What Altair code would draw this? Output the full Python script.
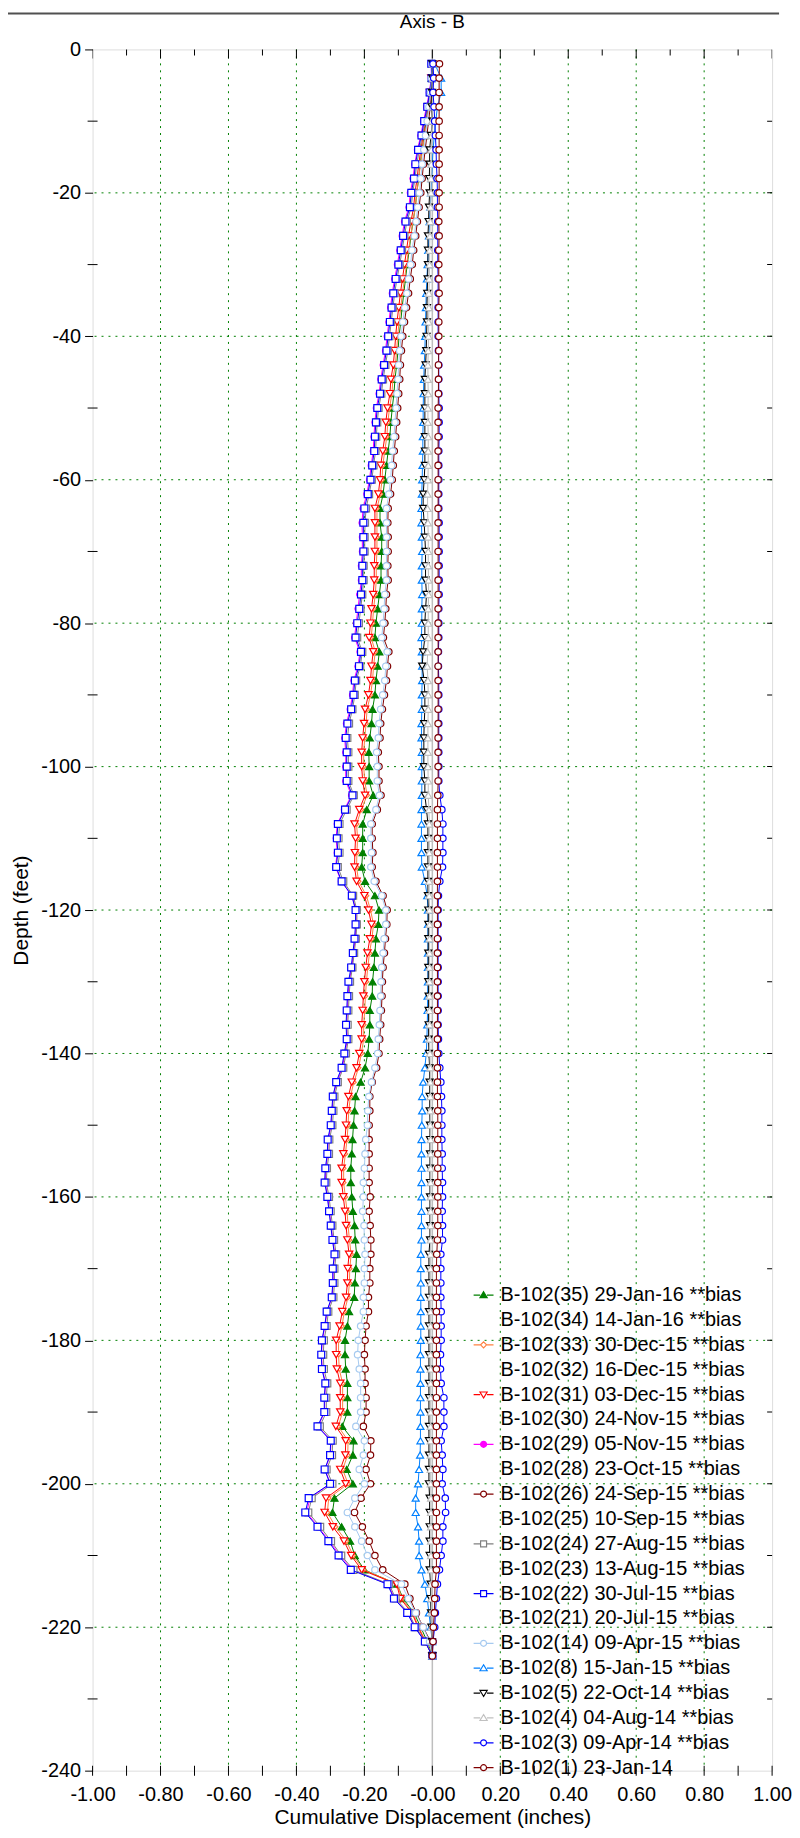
import altair as alt
import pandas as pd

# Depth of each inclinometer reading (feet), 2 ft spacing from -2 to -224
depths = [-d for d in range(2, 226, 2)]

legend_labels = [
    "B-102(35) 29-Jan-16 **bias",
    "B-102(34) 14-Jan-16 **bias",
    "B-102(33) 30-Dec-15 **bias",
    "B-102(32) 16-Dec-15 **bias",
    "B-102(31) 03-Dec-15 **bias",
    "B-102(30) 24-Nov-15 **bias",
    "B-102(29) 05-Nov-15 **bias",
    "B-102(28) 23-Oct-15 **bias",
    "B-102(26) 24-Sep-15 **bias",
    "B-102(25) 10-Sep-15 **bias",
    "B-102(24) 27-Aug-15 **bias",
    "B-102(23) 13-Aug-15 **bias",
    "B-102(22) 30-Jul-15 **bias",
    "B-102(21) 20-Jul-15 **bias",
    "B-102(14) 09-Apr-15 **bias",
    "B-102(8) 15-Jan-15 **bias",
    "B-102(5) 22-Oct-14 **bias",
    "B-102(4) 04-Aug-14 **bias",
    "B-102(3) 09-Apr-14 **bias",
    "B-102(1) 23-Jan-14",
]

# Cumulative displacement (inches), one value per depth (d2 ... d224)
s35 = [0.000, -0.002, -0.006, -0.012, -0.018, -0.024, -0.030, -0.036, -0.040, -0.046,
       -0.050, -0.057, -0.063, -0.068, -0.074, -0.079, -0.084, -0.089, -0.093, -0.098,
       -0.101, -0.105, -0.110, -0.113, -0.118, -0.122, -0.125, -0.130, -0.135, -0.140,
       -0.145, -0.154, -0.154, -0.149, -0.149, -0.151, -0.151, -0.156, -0.161, -0.166,
       -0.169, -0.156, -0.161, -0.166, -0.169, -0.176, -0.179, -0.184, -0.187, -0.186,
       -0.186, -0.174, -0.193, -0.205, -0.205, -0.205, -0.208, -0.198, -0.169, -0.157,
       -0.159, -0.166, -0.169, -0.172, -0.176, -0.177, -0.184, -0.184, -0.186, -0.190,
       -0.198, -0.211, -0.226, -0.229, -0.232, -0.235, -0.237, -0.240, -0.240, -0.237,
       -0.234, -0.229, -0.227, -0.223, -0.225, -0.228, -0.230, -0.245, -0.250, -0.257,
       -0.257, -0.255, -0.250, -0.250, -0.250, -0.265, -0.232, -0.234, -0.252, -0.234,
       -0.288, -0.294, -0.267, -0.242, -0.228, -0.200, -0.104, -0.086, -0.054, -0.034,
       -0.015, 0.000]
s33 = [0.000, -0.002, -0.005, -0.010, -0.016, -0.022, -0.029, -0.035, -0.040, -0.046,
       -0.050, -0.057, -0.064, -0.070, -0.076, -0.082, -0.088, -0.093, -0.098, -0.102,
       -0.105, -0.109, -0.116, -0.119, -0.126, -0.131, -0.134, -0.140, -0.146, -0.148,
       -0.153, -0.163, -0.163, -0.163, -0.163, -0.165, -0.165, -0.168, -0.173, -0.176,
       -0.180, -0.168, -0.173, -0.176, -0.182, -0.192, -0.195, -0.199, -0.202, -0.202,
       -0.199, -0.192, -0.209, -0.223, -0.220, -0.222, -0.223, -0.217, -0.194, -0.182,
       -0.173, -0.178, -0.185, -0.190, -0.194, -0.197, -0.199, -0.202, -0.202, -0.209,
       -0.217, -0.231, -0.241, -0.246, -0.248, -0.251, -0.256, -0.261, -0.261, -0.256,
       -0.251, -0.248, -0.244, -0.239, -0.243, -0.244, -0.248, -0.259, -0.266, -0.276,
       -0.276, -0.274, -0.264, -0.264, -0.264, -0.277, -0.248, -0.249, -0.264, -0.248,
       -0.305, -0.309, -0.285, -0.253, -0.233, -0.202, -0.102, -0.090, -0.057, -0.040,
       -0.019, 0.000]
s31 = [-0.001, -0.003, -0.007, -0.013, -0.020, -0.027, -0.034, -0.040, -0.045, -0.051,
       -0.055, -0.063, -0.070, -0.076, -0.082, -0.088, -0.094, -0.099, -0.104, -0.108,
       -0.111, -0.115, -0.122, -0.125, -0.132, -0.137, -0.140, -0.146, -0.152, -0.154,
       -0.159, -0.169, -0.169, -0.169, -0.169, -0.171, -0.171, -0.174, -0.179, -0.182,
       -0.186, -0.174, -0.179, -0.182, -0.188, -0.198, -0.201, -0.205, -0.208, -0.208,
       -0.205, -0.198, -0.215, -0.229, -0.226, -0.228, -0.229, -0.223, -0.200, -0.188,
       -0.179, -0.184, -0.191, -0.196, -0.200, -0.203, -0.205, -0.208, -0.208, -0.215,
       -0.223, -0.237, -0.247, -0.252, -0.254, -0.257, -0.262, -0.267, -0.267, -0.262,
       -0.257, -0.254, -0.250, -0.245, -0.249, -0.250, -0.254, -0.265, -0.273, -0.283,
       -0.283, -0.281, -0.271, -0.271, -0.271, -0.284, -0.255, -0.256, -0.271, -0.255,
       -0.313, -0.317, -0.293, -0.260, -0.239, -0.208, -0.105, -0.094, -0.060, -0.042,
       -0.021, 0.000]
s29 = [-0.003, -0.003, -0.009, -0.017, -0.026, -0.034, -0.044, -0.052, -0.057, -0.065,
       -0.069, -0.082, -0.089, -0.096, -0.103, -0.111, -0.118, -0.123, -0.128, -0.133,
       -0.138, -0.145, -0.152, -0.157, -0.165, -0.169, -0.172, -0.174, -0.180, -0.185,
       -0.193, -0.204, -0.207, -0.206, -0.206, -0.209, -0.209, -0.214, -0.219, -0.224,
       -0.229, -0.213, -0.219, -0.231, -0.235, -0.242, -0.253, -0.258, -0.255, -0.255,
       -0.255, -0.238, -0.259, -0.280, -0.283, -0.280, -0.285, -0.268, -0.237, -0.224,
       -0.224, -0.227, -0.232, -0.237, -0.245, -0.248, -0.250, -0.252, -0.250, -0.257,
       -0.265, -0.281, -0.292, -0.295, -0.298, -0.306, -0.308, -0.313, -0.315, -0.308,
       -0.303, -0.298, -0.293, -0.287, -0.292, -0.292, -0.295, -0.310, -0.316, -0.324,
       -0.326, -0.324, -0.314, -0.317, -0.317, -0.336, -0.298, -0.300, -0.316, -0.300,
       -0.360, -0.370, -0.336, -0.303, -0.272, -0.236, -0.130, -0.111, -0.073, -0.051,
       -0.021, 0.000]
s26 = [0.000, 0.000, -0.002, -0.006, -0.011, -0.016, -0.021, -0.026, -0.030, -0.034,
       -0.039, -0.044, -0.049, -0.055, -0.059, -0.065, -0.070, -0.076, -0.082, -0.087,
       -0.091, -0.094, -0.096, -0.099, -0.102, -0.105, -0.108, -0.112, -0.115, -0.118,
       -0.123, -0.130, -0.131, -0.130, -0.130, -0.131, -0.130, -0.135, -0.137, -0.140,
       -0.144, -0.128, -0.132, -0.135, -0.141, -0.147, -0.152, -0.154, -0.159, -0.157,
       -0.157, -0.151, -0.162, -0.177, -0.177, -0.175, -0.177, -0.166, -0.145, -0.133,
       -0.134, -0.138, -0.141, -0.145, -0.147, -0.148, -0.150, -0.152, -0.155, -0.157,
       -0.164, -0.177, -0.184, -0.184, -0.186, -0.186, -0.186, -0.186, -0.186, -0.183,
       -0.186, -0.183, -0.181, -0.181, -0.184, -0.184, -0.188, -0.188, -0.195, -0.198,
       -0.200, -0.198, -0.198, -0.195, -0.195, -0.203, -0.181, -0.182, -0.195, -0.182,
       -0.210, -0.229, -0.206, -0.186, -0.169, -0.146, -0.081, -0.066, -0.047, -0.027,
       -0.005, 0.000]
s24 = [-0.002, -0.001, -0.006, -0.013, -0.021, -0.029, -0.038, -0.046, -0.051, -0.058,
       -0.062, -0.075, -0.082, -0.089, -0.096, -0.104, -0.111, -0.116, -0.121, -0.126,
       -0.131, -0.138, -0.145, -0.150, -0.158, -0.162, -0.165, -0.167, -0.173, -0.178,
       -0.186, -0.195, -0.198, -0.199, -0.199, -0.202, -0.202, -0.206, -0.211, -0.216,
       -0.221, -0.206, -0.212, -0.224, -0.228, -0.235, -0.245, -0.250, -0.247, -0.247,
       -0.247, -0.231, -0.252, -0.273, -0.276, -0.273, -0.278, -0.262, -0.233, -0.222,
       -0.222, -0.225, -0.230, -0.235, -0.242, -0.245, -0.247, -0.249, -0.247, -0.254,
       -0.262, -0.278, -0.288, -0.291, -0.294, -0.303, -0.304, -0.310, -0.312, -0.304,
       -0.299, -0.294, -0.289, -0.283, -0.288, -0.288, -0.291, -0.306, -0.311, -0.319,
       -0.321, -0.319, -0.309, -0.312, -0.312, -0.331, -0.293, -0.295, -0.311, -0.294,
       -0.355, -0.365, -0.330, -0.298, -0.268, -0.232, -0.127, -0.108, -0.070, -0.049,
       -0.020, 0.000]
s22 = [-0.003, -0.002, -0.008, -0.015, -0.024, -0.032, -0.042, -0.050, -0.054, -0.062,
       -0.066, -0.079, -0.086, -0.093, -0.100, -0.108, -0.115, -0.120, -0.125, -0.130,
       -0.135, -0.142, -0.149, -0.154, -0.162, -0.166, -0.169, -0.171, -0.177, -0.182,
       -0.190, -0.200, -0.203, -0.203, -0.203, -0.206, -0.206, -0.210, -0.215, -0.221,
       -0.226, -0.210, -0.216, -0.228, -0.232, -0.239, -0.250, -0.255, -0.252, -0.252,
       -0.252, -0.235, -0.257, -0.278, -0.281, -0.278, -0.283, -0.267, -0.237, -0.226,
       -0.226, -0.229, -0.234, -0.239, -0.247, -0.250, -0.252, -0.254, -0.252, -0.259,
       -0.267, -0.283, -0.293, -0.296, -0.299, -0.308, -0.309, -0.315, -0.317, -0.309,
       -0.304, -0.299, -0.294, -0.288, -0.293, -0.293, -0.296, -0.311, -0.317, -0.325,
       -0.327, -0.325, -0.315, -0.318, -0.318, -0.338, -0.299, -0.301, -0.317, -0.301,
       -0.364, -0.374, -0.338, -0.306, -0.276, -0.240, -0.132, -0.113, -0.074, -0.052,
       -0.022, 0.000]
s14 = [0.000, -0.002, -0.005, -0.010, -0.015, -0.020, -0.025, -0.030, -0.034, -0.038,
       -0.043, -0.048, -0.053, -0.060, -0.064, -0.070, -0.075, -0.081, -0.087, -0.092,
       -0.096, -0.099, -0.101, -0.104, -0.107, -0.110, -0.113, -0.117, -0.120, -0.123,
       -0.128, -0.135, -0.135, -0.135, -0.135, -0.135, -0.135, -0.140, -0.142, -0.145,
       -0.149, -0.133, -0.137, -0.140, -0.146, -0.152, -0.157, -0.159, -0.164, -0.162,
       -0.162, -0.156, -0.166, -0.181, -0.181, -0.179, -0.181, -0.171, -0.149, -0.137,
       -0.137, -0.142, -0.145, -0.149, -0.151, -0.152, -0.154, -0.156, -0.159, -0.161,
       -0.169, -0.179, -0.187, -0.190, -0.191, -0.196, -0.198, -0.200, -0.203, -0.203,
       -0.205, -0.201, -0.200, -0.198, -0.200, -0.200, -0.203, -0.203, -0.211, -0.218,
       -0.220, -0.215, -0.211, -0.211, -0.211, -0.225, -0.200, -0.203, -0.215, -0.200,
       -0.228, -0.250, -0.228, -0.208, -0.191, -0.169, -0.091, -0.071, -0.049, -0.027,
       -0.008, 0.000]
s8 = [0.007, 0.026, 0.026, 0.015, 0.010, 0.006, 0.002, 0.000, -0.002, -0.004,
      -0.006, -0.008, -0.010, -0.012, -0.014, -0.016, -0.018, -0.019, -0.020, -0.021,
      -0.022, -0.024, -0.025, -0.026, -0.027, -0.027, -0.028, -0.028, -0.029, -0.030,
      -0.031, -0.032, -0.032, -0.031, -0.030, -0.031, -0.031, -0.030, -0.031, -0.031,
      -0.032, -0.031, -0.030, -0.030, -0.031, -0.031, -0.032, -0.032, -0.031, -0.031,
      -0.031, -0.031, -0.032, -0.032, -0.032, -0.032, -0.031, -0.022, -0.015, -0.013,
      -0.013, -0.013, -0.013, -0.013, -0.013, -0.014, -0.014, -0.015, -0.016, -0.018,
      -0.022, -0.027, -0.030, -0.030, -0.031, -0.032, -0.032, -0.032, -0.032, -0.032,
      -0.032, -0.032, -0.032, -0.034, -0.034, -0.034, -0.034, -0.034, -0.034, -0.034,
      -0.035, -0.035, -0.035, -0.035, -0.035, -0.035, -0.035, -0.036, -0.039, -0.042,
      -0.049, -0.049, -0.042, -0.039, -0.039, -0.032, -0.022, -0.015, -0.010, -0.005,
      0.000, 0.000]
s5 = [0.000, 0.000, -0.001, -0.002, 0.000, -0.004, -0.008, -0.008, -0.009, -0.008,
      -0.010, -0.011, -0.013, -0.013, -0.013, -0.014, -0.015, -0.016, -0.016, -0.017,
      -0.018, -0.020, -0.022, -0.022, -0.022, -0.022, -0.022, -0.022, -0.022, -0.024,
      -0.027, -0.027, -0.024, -0.022, -0.020, -0.020, -0.020, -0.017, -0.020, -0.022,
      -0.022, -0.027, -0.030, -0.024, -0.022, -0.022, -0.024, -0.025, -0.025, -0.025,
      -0.022, -0.022, -0.017, -0.013, -0.013, -0.013, -0.013, -0.013, -0.013, -0.012,
      -0.012, -0.012, -0.012, -0.012, -0.012, -0.011, -0.011, -0.011, -0.011, -0.010,
      -0.008, -0.008, -0.008, -0.008, -0.007, -0.007, -0.007, -0.007, -0.007, -0.007,
      -0.007, -0.007, -0.007, -0.010, -0.010, -0.010, -0.010, -0.010, -0.010, -0.010,
      -0.010, -0.010, -0.010, -0.010, -0.010, -0.010, -0.010, -0.010, -0.010, -0.010,
      -0.008, -0.008, -0.008, -0.008, -0.008, -0.008, -0.005, -0.005, -0.004, -0.003,
      -0.001, 0.000]
s4 = [0.002, 0.002, 0.001, 0.000, -0.001, -0.002, -0.003, -0.003, -0.004, -0.004,
      -0.005, -0.006, -0.007, -0.008, -0.008, -0.009, -0.010, -0.010, -0.011, -0.011,
      -0.012, -0.013, -0.013, -0.012, -0.013, -0.013, -0.012, -0.012, -0.012, -0.013,
      -0.014, -0.014, -0.013, -0.012, -0.012, -0.012, -0.011, -0.011, -0.012, -0.012,
      -0.012, -0.014, -0.015, -0.013, -0.012, -0.012, -0.013, -0.013, -0.013, -0.013,
      -0.012, -0.012, -0.010, -0.009, -0.009, -0.009, -0.009, -0.009, -0.009, -0.008,
      -0.008, -0.008, -0.008, -0.008, -0.008, -0.008, -0.008, -0.008, -0.008, -0.007,
      -0.006, -0.006, -0.006, -0.006, -0.006, -0.005, -0.005, -0.005, -0.005, -0.005,
      -0.005, -0.005, -0.005, -0.005, -0.005, -0.005, -0.005, -0.005, -0.005, -0.005,
      -0.005, -0.005, -0.005, -0.005, -0.005, -0.005, -0.005, -0.005, -0.005, -0.005,
      -0.004, -0.004, -0.004, -0.004, -0.004, -0.004, -0.003, -0.003, -0.002, -0.002,
      -0.001, 0.000]
s3 = [0.002, 0.004, 0.002, 0.005, 0.007, 0.009, 0.011, 0.012, 0.014, 0.015,
      0.015, 0.016, 0.016, 0.016, 0.016, 0.017, 0.017, 0.017, 0.017, 0.017,
      0.018, 0.019, 0.019, 0.019, 0.020, 0.020, 0.020, 0.019, 0.019, 0.019,
      0.019, 0.019, 0.020, 0.020, 0.020, 0.020, 0.020, 0.020, 0.019, 0.019,
      0.019, 0.018, 0.018, 0.019, 0.019, 0.019, 0.019, 0.019, 0.019, 0.019,
      0.019, 0.022, 0.028, 0.031, 0.031, 0.031, 0.030, 0.022, 0.018, 0.017,
      0.017, 0.017, 0.017, 0.017, 0.017, 0.017, 0.017, 0.017, 0.018, 0.019,
      0.022, 0.025, 0.027, 0.028, 0.028, 0.028, 0.029, 0.029, 0.030, 0.030,
      0.029, 0.030, 0.030, 0.025, 0.025, 0.025, 0.025, 0.026, 0.026, 0.026,
      0.024, 0.024, 0.026, 0.034, 0.034, 0.034, 0.026, 0.029, 0.031, 0.029,
      0.038, 0.039, 0.031, 0.031, 0.026, 0.021, 0.015, 0.012, 0.009, 0.007,
      0.002, 0.000]
s1 = [0.021, 0.020, 0.020, 0.020, 0.020, 0.020, 0.020, 0.020, 0.020, 0.020,
      0.020, 0.019, 0.020, 0.019, 0.019, 0.019, 0.020, 0.019, 0.019, 0.019,
      0.019, 0.018, 0.018, 0.018, 0.017, 0.017, 0.017, 0.017, 0.017, 0.017,
      0.017, 0.017, 0.017, 0.017, 0.017, 0.017, 0.017, 0.017, 0.017, 0.017,
      0.017, 0.017, 0.017, 0.017, 0.017, 0.017, 0.017, 0.017, 0.017, 0.017,
      0.017, 0.016, 0.015, 0.015, 0.015, 0.015, 0.015, 0.015, 0.015, 0.015,
      0.015, 0.015, 0.015, 0.015, 0.015, 0.015, 0.015, 0.015, 0.015, 0.015,
      0.015, 0.015, 0.015, 0.016, 0.016, 0.016, 0.016, 0.016, 0.016, 0.016,
      0.016, 0.016, 0.015, 0.013, 0.012, 0.012, 0.012, 0.012, 0.012, 0.012,
      0.012, 0.012, 0.012, 0.012, 0.012, 0.012, 0.012, 0.012, 0.012, 0.012,
      0.012, 0.012, 0.012, 0.012, 0.012, 0.012, 0.008, 0.007, 0.006, 0.003,
      0.002, 0.000]

# Axis tick / grid values
x_labels = [-1.0, -0.8, -0.6, -0.4, -0.2, 0.0, 0.2, 0.4, 0.6, 0.8, 1.0]
x_minor = [-0.9, -0.7, -0.5, -0.3, -0.1, 0.1, 0.3, 0.5, 0.7, 0.9]
x_grid = [-0.8, -0.6, -0.4, -0.2, 0.2, 0.4, 0.6, 0.8]
y_labels = [0, -20, -40, -60, -80, -100, -120, -140, -160, -180, -200, -220, -240]
y_grid = [-20, -40, -60, -80, -100, -120, -140, -160, -180, -200, -220]
y_minor = [-10, -30, -50, -70, -90, -110, -130, -150, -170, -190, -210, -230]
y_all = [-10, -20, -30, -40, -50, -60, -70, -80, -90, -100, -110, -120, -130, -140,
         -150, -160, -170, -180, -190, -200, -210, -220, -230]

# ---------------- styles ----------------
GREEN, ORANGE, RED, MAGENTA = "#008000", "#FF8040", "#FF0000", "#FF00FF"
DKRED, GRAY, BLUE, LTBLUE = "#800000", "#808080", "#0000FF", "#A6CAF0"
DODGER, BLACK, LTGRAY = "#0080FF", "#000000", "#C0C0C0"
NONE = "transparent"

# plotted series in drawing order: label, values, colour, shape, filled, size
plotted = [
    (legend_labels[0], s35, GREEN, "triangle-up", True, 50),
    (legend_labels[2], s33, ORANGE, "diamond", False, 22),
    (legend_labels[4], s31, RED, "triangle-down", False, 55),
    (legend_labels[6], s29, MAGENTA, "circle", True, 36),
    (legend_labels[8], s26, DKRED, "circle", False, 42),
    (legend_labels[10], s24, GRAY, "square", False, 48),
    (legend_labels[12], s22, BLUE, "square", False, 48),
    (legend_labels[14], s14, LTBLUE, "circle", False, 42),
    (legend_labels[15], s8, DODGER, "triangle-up", False, 50),
    (legend_labels[16], s5, BLACK, "triangle-down", False, 50),
    (legend_labels[17], s4, LTGRAY, "triangle-up", False, 50),
    (legend_labels[18], s3, BLUE, "circle", False, 42),
    (legend_labels[19], s1, DKRED, "circle", False, 42),
]

# legend symbols: short line with the marker in the middle
LINE = "M-1,0L-0.34,0M0.34,0L1,0"
P_TU = LINE + "M0,-0.34L0.36,0.26L-0.36,0.26Z"
P_TD = LINE + "M0,0.34L0.36,-0.26L-0.36,-0.26Z"
P_SQ = LINE + "M-0.3,-0.3L0.3,-0.3L0.3,0.3L-0.3,0.3Z"
P_CI = LINE + "M-0.3,0A0.3,0.3,0,1,0,0.3,0A0.3,0.3,0,1,0,-0.3,0Z"
P_DI = LINE + "M0,-0.3L0.3,0L0,0.3L-0.3,0Z"

leg_stroke = [GREEN, NONE, ORANGE, NONE, RED, NONE, MAGENTA, NONE, DKRED, NONE,
              GRAY, NONE, BLUE, NONE, LTBLUE, DODGER, BLACK, LTGRAY, BLUE, DKRED]
leg_fill = [GREEN, NONE, "white", NONE, "white", NONE, MAGENTA, NONE, "white", NONE,
            "white", NONE, "white", NONE, "white", "white", "white", "white", "white", "white"]
leg_shape = [P_TU, P_SQ, P_DI, P_SQ, P_TD, P_SQ, P_CI, P_SQ, P_CI, P_SQ,
             P_SQ, P_SQ, P_SQ, P_SQ, P_CI, P_TU, P_TD, P_TU, P_CI, P_CI]

FONT = "Liberation Sans"

xscale = alt.Scale(domain=[-1, 1], nice=False, zero=False)
yscale = alt.Scale(domain=[-240, 0], nice=False, zero=False)

xaxis = alt.Axis(
    values=x_labels,
    labelExpr="(datum.value <= 0 ? '-' : '') + format(abs(datum.value), '.2f')",
    ticks=True, tickSize=0, domain=False, grid=False,
    labelFont=FONT, labelFontSize=20, labelColor="black", labelPadding=14,
    labelFlush=False, labelOverlap=False,
    title="Cumulative Displacement (inches)", titleFont=FONT, titleFontSize=21,
    titleFontWeight="normal", titleColor="black", titlePadding=2,
)
yaxis = alt.Axis(
    values=y_labels, labelExpr="'' + datum.value",
    ticks=True, tickSize=8, tickColor="black", tickWidth=1, domain=False, grid=False,
    labelFont=FONT, labelFontSize=20, labelColor="black", labelPadding=4,
    labelFlush=False, labelOverlap=False,
    title="Depth (feet)", titleFont=FONT, titleFontSize=21,
    titleFontWeight="normal", titleColor="black", titlePadding=9,
)

X = alt.X("disp:Q", scale=xscale, axis=xaxis)
Y = alt.Y("depth:Q", scale=yscale, axis=yaxis)

layers = []

# grid
layers.append(alt.Chart(pd.DataFrame({"disp": x_grid})).mark_rule(
    color=GREEN, strokeDash=[2, 5], strokeWidth=1).encode(x=X))
layers.append(alt.Chart(pd.DataFrame({"depth": y_grid})).mark_rule(
    color=GREEN, strokeDash=[2, 5], strokeWidth=1).encode(y=Y))
layers.append(alt.Chart(pd.DataFrame({"disp": [0.0]})).mark_rule(
    color="#BEBEBE", strokeWidth=1.5).encode(x=X))

# series
for name, vals, col, shp, filled, sz in plotted:
    d = pd.DataFrame({"disp": [v for _, v in zip(depths, vals)],
                      "depth": [dd for dd, _ in zip(depths, vals)]})
    d["i"] = range(len(d))
    layers.append(alt.Chart(d).mark_line(color=col, strokeWidth=1).encode(
        x=X, y=Y, order=alt.Order("i:Q")))
    layers.append(alt.Chart(d).mark_point(
        shape=shp, size=sz, fill=(col if filled else "white"), stroke=col,
        strokeWidth=1.2, opacity=1, filled=True).encode(x=X, y=Y))

# frame ticks
bt = pd.DataFrame({"disp": x_labels + x_minor, "depth": [-240] * 21})
layers.append(alt.Chart(bt).mark_tick(orient="vertical", color="black", size=10,
                                      thickness=1, opacity=1).encode(x=X, y=Y))
tt_major = pd.DataFrame({"disp": x_labels, "depth": [0] * len(x_labels)})
tt_minor = pd.DataFrame({"disp": x_minor, "depth": [0] * len(x_minor)})
layers.append(alt.Chart(tt_major).mark_tick(orient="vertical", color="black", size=18,
                                            thickness=1, opacity=1, clip=True).encode(x=X, y=Y))
layers.append(alt.Chart(tt_minor).mark_tick(orient="vertical", color="black", size=12,
                                            thickness=1, opacity=1, clip=True).encode(x=X, y=Y))
lt = pd.DataFrame({"disp": [-1.0] * len(y_minor), "depth": y_minor})
layers.append(alt.Chart(lt).mark_tick(orient="horizontal", color="black", size=10,
                                      thickness=1, opacity=1).encode(x=X, y=Y))
rt = pd.DataFrame({"disp": [1.0] * len(y_all), "depth": y_all})
layers.append(alt.Chart(rt).mark_tick(orient="horizontal", color="black", size=10,
                                      thickness=1, opacity=1, clip=True).encode(x=X, y=Y))

# legend-only layer (points lie outside the plot and are clipped away)
leg = alt.Legend(orient="none", legendX=382, legendY=1241, title=None,
                 labelFont=FONT, labelFontSize=20, labelColor="black", labelLimit=500,
                 symbolSize=400, symbolStrokeWidth=1.2, rowPadding=4, labelOffset=6,
                 padding=0)
leg_df = pd.DataFrame({"series": legend_labels, "disp": [5.0] * 20, "depth": [0.0] * 20})
layers.append(alt.Chart(leg_df).mark_point(clip=True, opacity=1, strokeWidth=1.2).encode(
    x=X, y=Y,
    stroke=alt.Stroke("series:N", title=None, legend=leg,
                      scale=alt.Scale(domain=legend_labels, range=leg_stroke)),
    fill=alt.Fill("series:N", title=None, legend=leg,
                  scale=alt.Scale(domain=legend_labels, range=leg_fill)),
    shape=alt.Shape("series:N", title=None, legend=leg,
                    scale=alt.Scale(domain=legend_labels, range=leg_shape)),
))

# chart title and the border line at the very top of the page
deco = pd.DataFrame({"k": [0]})
layers.append(alt.Chart(deco).mark_text(
    text="Axis - B", font=FONT, fontSize=19, color="black", align="center",
    baseline="middle").encode(x=alt.value(341.5), y=alt.value(-28)))
layers.append(alt.Chart(deco).mark_rule(color="#505050", strokeWidth=2).encode(
    x=alt.value(-85), x2=alt.value(690), y=alt.value(-36)))

chart = alt.layer(*layers).properties(
    width=683, height=1730,
    padding={"left": 85, "top": 37, "right": 20, "bottom": 55},
    autosize=alt.AutoSizeParams(type="none"),
).configure_view(stroke="black", strokeWidth=1).configure(font=FONT)

chart.save("out.html", embed_options={"renderer": "svg", "actions": False})
